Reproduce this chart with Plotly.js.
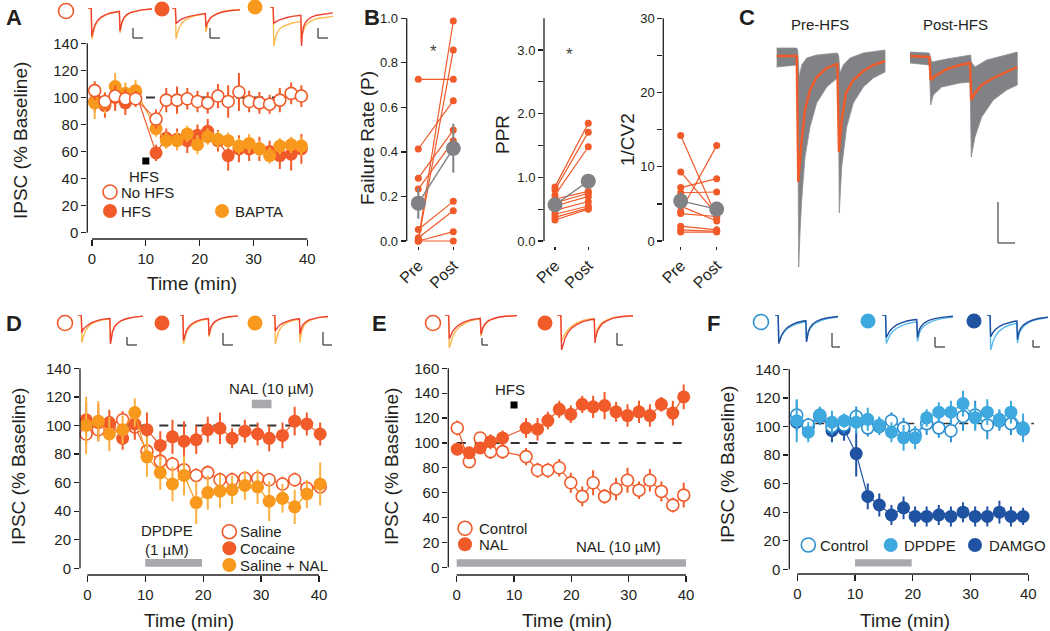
<!DOCTYPE html>
<html><head><meta charset="utf-8">
<script src="https://cdn.plot.ly/plotly-3.0.1.min.js"></script>
<style>html,body{margin:0;padding:0;background:#fff;}#chart{width:1050px;height:631px;}</style>
</head><body><div id="chart"></div>
<script>
// ================= DATA =================
// Panel A
const tA = [0.5,2.4,4.3,6.2,8.1,11.9,13.8,15.8,17.7,19.6,21.5,23.4,25.3,27.3,29.2,31.1,33.0,34.9,37.0,38.9];
const aNoHFS = [105,97,101,99,99,84,98,98,99,97,96,101,97,104,97,96,95,98,103,101];
const aNoHFSErr = [7,6,8,7,6,7,9,10,8,8,8,9,12,14,8,8,7,9,8,8];
const aHFS = [97,94,100,96,104,59,70,69,68,72,75,68,57,62,62,62,60,57,58,62];
const aHFSErr = [8,9,10,9,6,6,7,8,9,8,9,8,11,10,9,9,8,10,12,11];
const aBAPTA = [96,96,108,103,105,77,68,68,73,65,71,69,68,64,66,62,57,64,65,64];
const aBAPTAErr = [12,8,10,8,8,6,6,7,6,7,6,6,6,6,7,6,6,6,6,7];
const aHFSMark = {t:[10], v:[53]};
// Panel B
const bCats = ['Pre','Post'];
const frPre = [0.726,0.413,0.282,0.233,0.005,0.0,0.052,0.015,0.0,0.0];
const frPost = [0.726,0.63,0.498,0.45,0.988,0.858,0.178,0.136,0.042,0.0];
const frMean = [0.17,0.416], frErr = [0.07,0.11];
const pprPre = [0.85,0.80,0.72,0.66,0.60,0.55,0.48,0.42,0.37,0.33];
const pprPost = [1.85,1.71,1.48,0.78,0.75,0.70,0.62,0.55,0.52,0.50];
const pprMean = [0.57,0.94], pprErr = [0.06,0.10];
const cvPre = [14.2,9.3,7.2,6.5,4.7,4.0,3.7,2.0,1.5,1.2];
const cvPost = [3.2,3.6,8.4,6.6,2.7,12.85,3.3,1.5,1.3,1.2];
const cvMean = [5.4,4.3], cvErr = [1.2,1.0];
// Panel C (sweeps, ms vs pA-ish)
const preMeanT = [1.7,21.7,23.3,26.7,30,35,41.7,51.7,62.3,64,66.7,71,78.3,88.3,98.3,110];
const preMean = [0,0,-126,-84,-54,-34,-21,-12,-8,-96,-64,-37,-24,-15,-9,-5];
const preUpT = [1.7,21.7,22.7,24.3,26.7,31.7,41.7,62.3,63.7,65,68.3,75,88.3,110];
const preUp = [8,8,6,-21,-9,-2,1,3,0,-17,-9,-2,3,6];
const preLoT = [1.7,21.7,22.7,23.7,25,26.7,30,35,41.7,51.7,62.3,63.3,64.3,66.7,71.7,78.3,88.3,98.3,110];
const preLo = [-11,-9,-44,-211,-177,-144,-101,-71,-47,-31,-22,-24,-157,-111,-71,-47,-31,-22,-16];
const postMeanT = [135,154.3,155.7,160,171.7,185,195,196.3,200,206.7,218.3,231.7,242.3];
const postMean = [0,-1,-24,-20,-13,-9,-7,-44,-37,-29,-22,-16,-11];
const postUpT = [135,154.3,156.7,171.7,195.7,196.3,200,211.7,242.3];
const postUp = [4,3,-6,-3,1,-6,-11,-4,4];
const postLoT = [135,154.3,155.7,158.3,166.7,185,195,196.3,200,206.7,218.3,231.7,242.3];
const postLo = [-7,-9,-49,-39,-31,-27,-26,-101,-81,-61,-44,-34,-29];
// Panel D
const tD = [-0.2,1.9,3.8,6.1,8.2,10.3,12.6,14.7,16.7,18.8,20.8,22.9,25.0,27.2,29.4,31.4,33.7,35.8,37.9,40.2];
const dSaline = [94,97,100,104,99,82,75,73,69,65,67,62,62,63,63,62,59,62,56,57];
const dSalineErr = [7,6,7,6,6,5,5,5,5,5,5,5,5,5,5,4,5,5,5,5];
const dCocaine = [104,102,102,91,101,97,86,92,89,90,97,98,91,96,94,91,93,103,101,94];
const dCocaineErr = [12,13,9,8,11,12,10,12,14,10,9,11,7,8,8,9,9,10,8,8];
const dSalNAL = [100,103,94,97,109,78,67,59,65,46,53,54,55,58,57,47,49,43,52,59];
const dSalNALErr = [20,14,12,10,10,14,12,12,14,15,12,12,10,10,12,14,10,12,10,15];
const dDPDPEBar = [10,19.8], dNALBar = [28.4,31.8];
// Panel E
const tE = [0.1,2.2,4.1,5.9,8.0,12.1,14.1,15.9,17.9,19.9,21.9,23.8,25.8,27.8,29.8,31.8,33.7,35.7,37.7,39.6];
const eControl = [112,85,104,93,93,89,78,78,80,68,57,68,57,63,70,62,70,61,50,58];
const eControlErr = [6,5,4,6,6,7,6,6,7,8,8,10,6,9,10,7,9,8,6,10];
const eNAL = [95,92,96,101,104,112,111,118,127,123,131,129,130,125,122,125,122,131,124,137];
const eNALErr = [5,5,5,6,6,8,9,7,7,7,7,9,11,8,9,9,9,6,10,10];
const eHFSMark = {t:[10], v:[130.5]};
const eNALBar = [0,40];
// Panel F
const tF = [-0.1,1.9,3.9,6.0,8.1,10.2,12.2,14.2,16.3,18.4,20.4,22.4,24.5,26.6,28.7,30.8,32.9,35.0,37.0,39.1];
const fControl = [108,101,107,100,101,107,99,100,104,99,94,102,99,97,107,108,101,104,102,98];
const fControlErr = [10,5,6,6,6,7,6,6,6,7,6,8,7,8,10,10,10,7,8,7];
const fDPDPE = [104,96,108,103,104,103,105,101,96,92,92,106,110,110,116,106,110,105,110,99];
const fDPDPEErr = [15,7,6,8,5,8,8,6,7,9,8,6,7,8,9,9,9,7,8,10];
const fDAMGO = [103,100,108,97,98,81,51,45,38,43,37,37,38,37,40,37,37,40,37,37];
const fDAMGOErr = [6,5,5,8,8,16,9,8,7,8,7,7,7,7,7,7,7,8,7,6];
const fBar = [10,19.8];
// Baselines
const base100 = [0,40], base102 = [0,42];
// Example IPSC traces (normalised)
const waveT = [0,5,6,8,11,15,20,27,35,45,49,50,51,53,56,60,66,74,84,100];
const aIn1Red = [0,0,-0.92,-0.72,-0.54,-0.4,-0.3,-0.22,-0.16,-0.12,-0.11,-0.74,-0.6,-0.45,-0.32,-0.22,-0.15,-0.1,-0.06,-0.03];
const aIn1Yel = [0,0,-1,-0.78,-0.58,-0.43,-0.32,-0.23,-0.17,-0.13,-0.12,-0.8,-0.64,-0.48,-0.34,-0.24,-0.16,-0.1,-0.06,-0.03];
const aIn2Red = [0,0,-0.5,-0.45,-0.4,-0.35,-0.3,-0.26,-0.22,-0.19,-0.18,-0.62,-0.52,-0.42,-0.33,-0.26,-0.19,-0.13,-0.09,-0.06];
const aIn2Yel = [0,0,-1,-0.8,-0.62,-0.48,-0.38,-0.3,-0.24,-0.2,-0.19,-0.78,-0.62,-0.47,-0.35,-0.26,-0.18,-0.12,-0.08,-0.05];
const aIn3Red = [0,0,-0.42,-0.39,-0.36,-0.33,-0.3,-0.27,-0.24,-0.22,-0.21,-1,-0.72,-0.52,-0.4,-0.32,-0.26,-0.21,-0.18,-0.15];
const aIn3Yel = [0,0,-1,-0.82,-0.68,-0.57,-0.5,-0.45,-0.41,-0.38,-0.37,-0.92,-0.74,-0.6,-0.49,-0.41,-0.35,-0.3,-0.27,-0.24];
const dIn1Red = [0,0,-0.6,-0.5,-0.42,-0.34,-0.27,-0.21,-0.16,-0.13,-0.12,-1,-0.78,-0.58,-0.42,-0.3,-0.2,-0.13,-0.08,-0.04];
const dIn1Yel = [0,0,-0.95,-0.75,-0.57,-0.43,-0.32,-0.24,-0.18,-0.14,-0.13,-0.95,-0.75,-0.56,-0.41,-0.3,-0.2,-0.13,-0.08,-0.04];
const dIn2Red = [0,0,-0.88,-0.7,-0.54,-0.41,-0.31,-0.23,-0.17,-0.13,-0.12,-0.7,-0.56,-0.43,-0.32,-0.23,-0.16,-0.1,-0.06,-0.03];
const dIn2Yel = [0,0,-1,-0.8,-0.61,-0.46,-0.35,-0.26,-0.19,-0.15,-0.14,-0.75,-0.6,-0.46,-0.34,-0.25,-0.17,-0.11,-0.07,-0.04];
const dIn3Red = [0,0,-0.55,-0.47,-0.4,-0.33,-0.27,-0.22,-0.17,-0.14,-0.13,-0.65,-0.53,-0.42,-0.32,-0.24,-0.17,-0.12,-0.08,-0.05];
const dIn3Yel = [0,0,-1,-0.8,-0.61,-0.46,-0.35,-0.27,-0.2,-0.16,-0.15,-0.95,-0.75,-0.56,-0.41,-0.3,-0.21,-0.14,-0.09,-0.05];
const eIn1Red = [0,0,-0.72,-0.6,-0.48,-0.38,-0.29,-0.21,-0.15,-0.11,-0.1,-0.58,-0.47,-0.36,-0.26,-0.18,-0.12,-0.07,-0.04,-0.02];
const eIn1Yel = [0,0,-1,-0.82,-0.64,-0.48,-0.36,-0.26,-0.18,-0.13,-0.12,-0.65,-0.52,-0.39,-0.28,-0.19,-0.12,-0.07,-0.04,-0.02];
const eIn2Red = [0,0,-1,-0.82,-0.64,-0.48,-0.36,-0.26,-0.18,-0.13,-0.12,-0.8,-0.64,-0.48,-0.35,-0.24,-0.16,-0.09,-0.05,-0.02];
const eIn2Yel = [0,0,-0.75,-0.64,-0.52,-0.41,-0.31,-0.22,-0.15,-0.11,-0.1,-0.66,-0.54,-0.41,-0.3,-0.21,-0.14,-0.08,-0.04,-0.02];
const fIn1Dark = [0,0,-0.95,-0.8,-0.65,-0.52,-0.41,-0.32,-0.25,-0.2,-0.19,-0.9,-0.72,-0.55,-0.41,-0.3,-0.21,-0.14,-0.09,-0.05];
const fIn1Light = [0,0,-0.9,-0.78,-0.66,-0.55,-0.45,-0.36,-0.29,-0.24,-0.23,-0.85,-0.7,-0.56,-0.44,-0.34,-0.25,-0.18,-0.12,-0.07];
const fIn2Dark = [0,0,-0.75,-0.64,-0.53,-0.43,-0.34,-0.26,-0.2,-0.16,-0.15,-0.75,-0.6,-0.46,-0.35,-0.26,-0.18,-0.12,-0.08,-0.04];
const fIn2Light = [0,0,-0.95,-0.82,-0.68,-0.56,-0.45,-0.36,-0.29,-0.24,-0.23,-0.88,-0.72,-0.57,-0.45,-0.35,-0.26,-0.18,-0.12,-0.07];
const fIn3Dark = [0,0,-0.62,-0.55,-0.47,-0.4,-0.33,-0.27,-0.22,-0.18,-0.17,-0.7,-0.58,-0.46,-0.36,-0.28,-0.21,-0.15,-0.1,-0.06];
const fIn3Light = [0,0,-1,-0.85,-0.7,-0.57,-0.46,-0.37,-0.3,-0.25,-0.24,-0.8,-0.66,-0.52,-0.41,-0.32,-0.24,-0.17,-0.12,-0.07];

// ================= STYLE / HELPERS =================
const W = 1050, H = 631;
const px = p => p / W, py = p => 1 - p / H;
const FONT = 'Liberation Sans, Arial, Helvetica, sans-serif';
const INK = '#231f20';
const RED = '#F15A29', ORANGE = '#F8991D', ORANGE_ERR = '#FBB040';
const LBLUE = '#3DA9DE', DBLUE = '#2052A2', CBLUE = '#2A8FD0';
const GRAYM = '#808285', BARGRAY = '#A7A9AC';
const TR_RED = '#EE4136', TR_YEL = '#FDB94E', TR_LB = '#5BBBEA', TR_DB = '#1F4E9F';
const TITLE = 19;

const layout = {width: W, height: H, margin: {l: 0, r: 0, t: 0, b: 0}, paper_bgcolor: '#fff', plot_bgcolor: 'rgba(0,0,0,0)',
  showlegend: false, hovermode: false, font: {family: FONT, color: INK}, shapes: [], annotations: []};
const traces = [];

function panel(n, g, xo, yo) {
  const sx = (g.xv[1] - g.xv[0]) / (g.xp[1] - g.xp[0]);
  const sy = (g.yv[1] - g.yv[0]) / (g.yp[1] - g.yp[0]);
  const xr = [g.xv[0] + (g.l - g.xp[0]) * sx, g.xv[0] + (g.r - g.xp[0]) * sx];
  const yr = [g.yv[0] + (g.b - g.yp[0]) * sy, g.yv[0] + (g.t - g.yp[0]) * sy];
  const s = n === 1 ? '' : String(n);
  const common = {showgrid: false, zeroline: false, showline: false, ticks: 'outside', ticklen: 6, tickwidth: 1.3,
    tickcolor: INK, tickfont: {size: 15, family: FONT, color: INK}, fixedrange: true};
  layout['xaxis' + s] = Object.assign({}, common, {domain: [px(g.l), px(g.r)], range: xr, anchor: 'y' + s}, xo || {});
  layout['yaxis' + s] = Object.assign({}, common, {domain: [py(g.b), py(g.t)], range: yr, anchor: 'x' + s}, yo || {});
  return {ax: 'x' + s, ay: 'y' + s, g,
    X: v => g.xp[0] + (v - g.xv[0]) / sx, Y: v => g.yp[0] + (v - g.yv[0]) / sy};
}
function line(x0, y0, x1, y1, w, c) {
  layout.shapes.push({type: 'line', xref: 'paper', yref: 'paper', x0: px(x0), y0: py(y0), x1: px(x1), y1: py(y1),
    line: {color: c || INK, width: w || 1.3}});
}
function axisLines(p, xa, ya) {
  if (ya) line(p.g.l, p.Y(ya[0]), p.g.l, p.Y(ya[1]));
  if (xa) line(p.X(xa[0]), p.g.b, p.X(xa[1]), p.g.b);
}
function txt(x, y, s, size, o) {
  layout.annotations.push(Object.assign({xref: 'paper', yref: 'paper', x: px(x), y: py(y), text: s, showarrow: false,
    xanchor: 'center', yanchor: 'middle', font: {size: size || 15, family: FONT, color: INK}}, o || {}));
}
function dot(cx, cy, r, color, open) {
  layout.shapes.push({type: 'circle', xref: 'paper', yref: 'paper', x0: px(cx - r), x1: px(cx + r), y0: py(cy + r), y1: py(cy - r),
    fillcolor: open ? '#fff' : color, line: {color: color, width: open ? 1.6 : 0}});
}
function series(p, x, y, err, color, filled, errColor) {
  traces.push({type: 'scatter', mode: 'lines+markers', x: x, y: y, xaxis: p.ax, yaxis: p.ay, cliponaxis: false,
    line: {color: color, width: 1.2},
    marker: {size: filled ? 13 : 12, color: filled ? color : '#fff', line: {color: color, width: filled ? 0 : 1.6}},
    error_y: {type: 'data', array: err, visible: true, color: errColor || color, thickness: 2, width: 0}});
}
function refLine(p, xs, yv, dash, w) {
  traces.push({type: 'scatter', mode: 'lines', x: xs, y: [yv, yv], xaxis: p.ax, yaxis: p.ay, cliponaxis: false,
    line: {color: '#333', width: w || 2, dash: dash || 'dash'}});
}
function bar(p, xs, y0, y1) {
  layout.shapes.push({type: 'rect', xref: p.ax, yref: p.ay, x0: xs[0], x1: xs[1], y0: y0, y1: y1,
    fillcolor: BARGRAY, line: {width: 0}, layer: 'below'});
}
function scaleBar(x, y0, y1, x1, c) { line(x, y0, x, y1, 1.3, c || '#444'); line(x, y1, x1, y1, 1.3, c || '#444'); }
function inset(n, l, r, t, b, waves) {
  const p = panel(n, {l: l, r: r, t: t, b: b, xp: [l, r], xv: [0, 100], yp: [t, b], yv: [0, -1]}, {visible: false}, {visible: false});
  waves.forEach(w => traces.push({type: 'scatter', mode: 'lines', x: waveT, y: w[0], xaxis: p.ax, yaxis: p.ay, cliponaxis: false,
    line: {color: w[1], width: 1.4}}));
  return p;
}
function pairs(pre, post) { const x = [], y = []; pre.forEach((v, i) => { x.push(0, 1, null); y.push(v, post[i], null); }); return {x, y}; }

const timeTicks = {tickvals: [0, 10, 20, 30, 40]};

// ================= PANEL A =================
const A = panel(1, {l: 87.3, r: 315, t: 43.3, b: 239, xp: [92, 307.3], xv: [0, 40], yp: [232.7, 43.3], yv: [0, 140]},
  timeTicks, {tickvals: [0, 20, 40, 60, 80, 100, 120, 140], ticklen: 5});
axisLines(A, [0, 40], [0, 140]);
refLine(A, [0, 39], 100);
series(A, tA, aHFS, aHFSErr, RED, true);
series(A, tA, aBAPTA, aBAPTAErr, ORANGE, true, ORANGE_ERR);
series(A, tA, aNoHFS, aNoHFSErr, RED, false);
traces.push({type: 'scatter', mode: 'markers', x: aHFSMark.t, y: aHFSMark.v, xaxis: A.ax, yaxis: A.ay,
  marker: {symbol: 'square', size: 7, color: '#000'}});
txt(144, 176, 'HFS', 15);
dot(110, 192, 7, RED, true); txt(119, 192, 'No HFS', 15, {xanchor: 'left'});
dot(110, 211, 7, RED, false); txt(119, 211, 'HFS', 15, {xanchor: 'left'});
dot(222, 211, 7, ORANGE, false); txt(233, 211, 'BAPTA', 15, {xanchor: 'left'});
txt(192, 283, 'Time (min)', TITLE);
txt(21, 141, 'IPSC (% Baseline)', TITLE, {textangle: -90});
txt(14, 17, '<b>A</b>', 22);

// ================= PANEL B =================
const bX = {tickvals: [0, 1], ticktext: bCats, tickangle: -45, ticklen: 3, tickfont: {size: 16, family: FONT, color: INK}};
function bPanel(n, l, r, xp, yTop, yv, ticks, labels, pre, post, mean, err) {
  const p = panel(n, {l: l, r: r, t: 18.3, b: 246, xp: xp, xv: [0, 1], yp: [241, yTop], yv: [0, yv]}, bX,
    {tickvals: ticks, ticktext: labels, ticklen: 5, tickfont: {size: 13, family: FONT, color: INK}});
  line(l, 241, l, 18.3);
  const pr = pairs(pre, post);
  traces.push({type: 'scatter', mode: 'lines+markers', x: pr.x, y: pr.y, xaxis: p.ax, yaxis: p.ay, cliponaxis: false,
    line: {color: RED, width: 1.2}, marker: {size: 7, color: RED}});
  traces.push({type: 'scatter', mode: 'lines+markers', x: [0, 1], y: mean, xaxis: p.ax, yaxis: p.ay, cliponaxis: false,
    line: {color: GRAYM, width: 1.4}, marker: {size: 15, color: GRAYM},
    error_y: {type: 'data', array: err, visible: true, color: GRAYM, thickness: 2, width: 0}});
  return p;
}
bPanel(2, 406.7, 470, [418.3, 453.3], 18.3, 1, [0, 0.2, 0.4, 0.6, 0.8, 1.0], ['0.0', '0.2', '0.4', '0.6', '0.8', '1.0'], frPre, frPost, frMean, frErr);
bPanel(3, 544, 605, [555, 588.3], 50, 3, [0, 0.5, 1, 1.5, 2, 2.5, 3, 3.5], ['0.0', '', '1.0', '', '2.0', '', '3.0', ''], pprPre, pprPost, pprMean, pprErr);
bPanel(4, 663.3, 730, [680.7, 716.7], 18.3, 30, [0, 5, 10, 15, 20, 25, 30], ['0', '', '10', '', '20', '', '30'], cvPre, cvPost, cvMean, cvErr);
txt(367, 138, 'Failure Rate (P)', TITLE, {textangle: -90});
txt(502, 135, 'PPR', TITLE, {textangle: -90});
txt(627, 140, '1/CV2', TITLE, {textangle: -90});
txt(433.3, 51, '*', 17, {font: {size: 17, family: FONT, color: '#444'}});
txt(569.3, 55, '*', 17, {font: {size: 17, family: FONT, color: '#444'}});
txt(372, 18, '<b>B</b>', 22);

// ================= PANEL C =================
const C = panel(5, {l: 775, r: 1022, t: 40, b: 270, xp: [775, 1022], xv: [0, 247], yp: [56, 270], yv: [0, -214]},
  {visible: false}, {visible: false});
function envelope(ut, u, lt, lo) {
  traces.push({type: 'scatter', mode: 'lines', x: ut.concat(lt.slice().reverse()), y: u.concat(lo.slice().reverse()),
    xaxis: C.ax, yaxis: C.ay, fill: 'toself', fillcolor: '#818285', line: {color: '#8e8f92', width: 0.8}, cliponaxis: false});
}
envelope(preUpT, preUp, preLoT, preLo);
envelope(postUpT, postUp, postLoT, postLo);
traces.push({type: 'scatter', mode: 'lines', x: preMeanT, y: preMean, xaxis: C.ax, yaxis: C.ay, line: {color: RED, width: 2.4}, cliponaxis: false});
traces.push({type: 'scatter', mode: 'lines', x: postMeanT, y: postMean, xaxis: C.ax, yaxis: C.ay, line: {color: RED, width: 2.4}, cliponaxis: false});
txt(820, 25, 'Pre-HFS', 15);
txt(955, 25, 'Post-HFS', 15);
scaleBar(998, 202, 243, 1015, '#555');
txt(747, 18, '<b>C</b>', 22);

// ================= PANEL D =================
const D = panel(6, {l: 80, r: 325, t: 368.3, b: 575, xp: [87.3, 319], xv: [0, 40], yp: [568.3, 368.3], yv: [0, 140]},
  timeTicks, {tickvals: [0, 20, 40, 60, 80, 100, 120, 140], ticklen: 5});
axisLines(D, [0, 40], [0, 140]);
bar(D, dDPDPEBar, 1, 6.5);
bar(D, dNALBar, 112, 118);
refLine(D, base100, 100);
series(D, tD, dSaline, dSalineErr, RED, false);
series(D, tD, dCocaine, dCocaineErr, RED, true);
series(D, tD, dSalNAL, dSalNALErr, ORANGE, true, ORANGE_ERR);
txt(271.7, 388.3, 'NAL (10 µM)', 15);
txt(166.7, 530.7, 'DPDPE', 15);
txt(166.7, 549.3, '(1 µM)', 15);
dot(229.3, 531.7, 7, RED, true); txt(238, 531.7, 'Saline', 15, {xanchor: 'left'});
dot(229.3, 548.3, 7, RED, false); txt(238, 548.3, 'Cocaine', 15, {xanchor: 'left'});
dot(229.3, 565, 7, ORANGE, false); txt(238, 565, 'Saline + NAL', 15, {xanchor: 'left'});
txt(189, 620, 'Time (min)', TITLE);
txt(19, 467, 'IPSC (% Baseline)', TITLE, {textangle: -90});
txt(14, 323, '<b>D</b>', 22);

// ================= PANEL E =================
const E = panel(7, {l: 448.3, r: 692, t: 368.3, b: 575, xp: [456.7, 686], xv: [0, 40], yp: [567.3, 368.3], yv: [0, 160]},
  timeTicks, {tickvals: [0, 20, 40, 60, 80, 100, 120, 140, 160], ticklen: 5});
axisLines(E, [0, 40], [0, 160]);
bar(E, eNALBar, 0.5, 6.4);
refLine(E, base100, 100);
series(E, tE, eControl, eControlErr, RED, false);
series(E, tE, eNAL, eNALErr, RED, true);
traces.push({type: 'scatter', mode: 'markers', x: eHFSMark.t, y: eHFSMark.v, xaxis: E.ax, yaxis: E.ay,
  marker: {symbol: 'square', size: 7, color: '#000'}});
txt(510, 389.3, 'HFS', 15);
txt(618.3, 546, 'NAL (10 µM)', 15);
dot(465, 528.3, 7, RED, true); txt(476.7, 528.3, 'Control', 15, {xanchor: 'left'});
dot(465, 544.3, 7, RED, false); txt(476.7, 544.3, 'NAL', 15, {xanchor: 'left'});
txt(566.7, 620, 'Time (min)', TITLE);
txt(392, 467, 'IPSC (% Baseline)', TITLE, {textangle: -90});
txt(379, 323, '<b>E</b>', 22);

// ================= PANEL F =================
const F = panel(8, {l: 789.3, r: 1034, t: 369.3, b: 574, xp: [797.3, 1028.3], xv: [0, 40], yp: [569.3, 369.3], yv: [0, 140]},
  timeTicks, {tickvals: [0, 20, 40, 60, 80, 100, 120, 140], ticklen: 5});
axisLines(F, [0, 40], [0, 140]);
bar(F, fBar, 2, 7);
refLine(F, base102, 102, 'dash', 1.5);
series(F, tF, fDAMGO, fDAMGOErr, DBLUE, true);
series(F, tF, fControl, fControlErr, CBLUE, false);
series(F, tF, fDPDPE, fDPDPEErr, LBLUE, true);
dot(808.3, 545, 7, CBLUE, true); txt(818, 545, 'Control', 15, {xanchor: 'left'});
dot(890.7, 545, 7, LBLUE, false); txt(901.7, 545, 'DPDPE', 15, {xanchor: 'left'});
dot(975, 545, 7, DBLUE, false); txt(986.7, 545, 'DAMGO', 15, {xanchor: 'left'});
txt(905, 620, 'Time (min)', TITLE);
txt(727, 465, 'IPSC (% Baseline)', TITLE, {textangle: -90});
txt(713, 323, '<b>F</b>', 22);

// ================= INSET TRACES =================
inset(9, 88, 152, 8, 39, [[aIn1Yel, TR_YEL], [aIn1Red, TR_RED]]);
inset(10, 172, 240, 8, 39, [[aIn2Yel, TR_YEL], [aIn2Red, TR_RED]]);
inset(11, 270, 333, 7, 46, [[aIn3Yel, TR_YEL], [aIn3Red, TR_RED]]);
inset(12, 78, 143, 315, 344, [[dIn1Yel, TR_YEL], [dIn1Red, TR_RED]]);
inset(13, 180, 238, 315, 344, [[dIn2Yel, TR_YEL], [dIn2Red, TR_RED]]);
inset(14, 272, 328, 315, 344, [[dIn3Yel, TR_YEL], [dIn3Red, TR_RED]]);
inset(15, 445, 517, 315, 348, [[eIn1Yel, TR_YEL], [eIn1Red, TR_RED]]);
inset(16, 557, 633, 315, 350, [[eIn2Yel, TR_YEL], [eIn2Red, TR_RED]]);
inset(17, 775, 838, 315, 345, [[fIn1Light, TR_LB], [fIn1Dark, TR_DB]]);
inset(18, 882, 953, 315, 345, [[fIn2Light, TR_LB], [fIn2Dark, TR_DB]]);
inset(19, 987, 1048, 315, 350, [[fIn3Light, TR_LB], [fIn3Dark, TR_DB]]);
// inset icons
dot(66, 11, 7.5, RED, true); dot(162, 9, 7.5, RED, false); dot(255, 7, 7.5, ORANGE, false);
dot(65, 323, 7.5, RED, true); dot(162, 323, 7.5, RED, false); dot(255, 323, 7.5, ORANGE, false);
dot(433, 323, 7.5, RED, true); dot(545, 323, 7.5, RED, false);
dot(761, 322, 7.5, CBLUE, true); dot(868, 321, 7.5, LBLUE, false); dot(974, 321, 7.5, DBLUE, false);
// scale bars
scaleBar(133, 28, 38, 143); scaleBar(210, 28, 38, 220); scaleBar(318, 28, 38, 328);
scaleBar(127, 337, 345, 137); scaleBar(223, 333, 345, 233); scaleBar(323, 332, 345, 332);
scaleBar(482, 338, 345, 488); scaleBar(617, 333, 345, 623);
scaleBar(832, 333, 347, 840); scaleBar(935, 337, 347, 945); scaleBar(1033, 340, 347, 1040);

Plotly.newPlot('chart', traces, layout, {displayModeBar: false, staticPlot: true});
</script></body></html>
